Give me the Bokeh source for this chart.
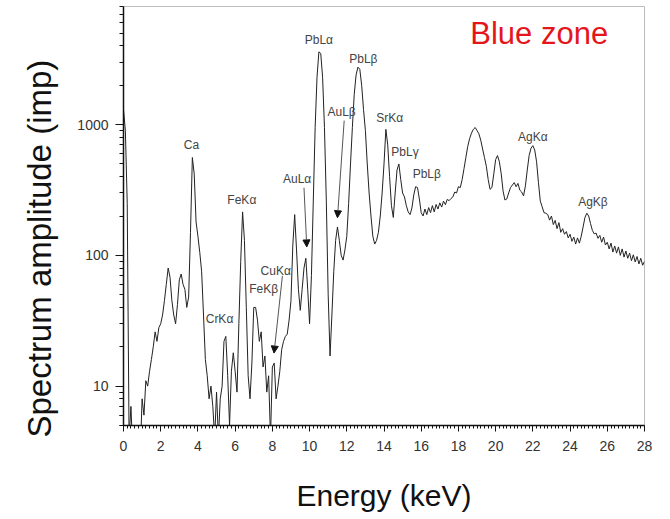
import numpy as np
from bokeh.plotting import figure
from bokeh.models import (Range1d, FixedTicker, PrintfTickFormatter, Label, Title,
                          Arrow, NormalHead, ColumnDataSource)
from bokeh.core.properties import value
from bokeh.embed import file_html
from bokeh.resources import INLINE

# ---------------- data ----------------
energy_step_kev = 0.1
counts = [
    1300, 900, 250, 4, 7, 3, 3, 3, 3, 3,            # 0.0 - 0.9
    8, 6, 11, 10, 13, 16, 20, 26, 22, 28,           # 1.0
    30, 35, 45, 60, 80, 68, 45, 35, 30, 42,         # 2.0
    65, 72, 60, 55, 40, 48, 150, 560, 420, 180,     # 3.0
    140, 105, 75, 35, 16, 12, 8, 10, 7, 4,          # 4.0
    9, 4, 8, 10, 22, 24, 12, 5, 13, 18,             # 5.0
    13, 9, 30, 90, 215, 130, 40, 12, 8, 15,         # 6.0
    40, 40, 32, 22, 26, 14, 17, 9, 12, 4,           # 7.0
    14, 15, 8, 10, 13, 19, 22, 24, 25, 32,          # 8.0
    45, 120, 205, 110, 55, 38, 55, 80, 95, 55,      # 9.0
    30, 70, 260, 950, 2300, 3600, 3500, 2300, 950, 260,   # 10.0
    50, 17, 35, 75, 130, 165, 130, 100, 92, 110,    # 11.0
    140, 250, 500, 950, 1700, 2400, 2750, 2650, 2000, 1300,  # 12.0
    900, 500, 300, 200, 140, 122, 130, 150, 200, 300,    # 13.0
    500, 920, 700, 400, 240, 195, 300, 450, 500, 380,    # 14.0
    300, 280, 240, 215, 205, 230, 290, 335, 330, 270,    # 15.0
    212, 200, 226, 205, 232, 212, 240, 215, 245, 226,    # 16.0
    252, 234, 260, 244, 268, 262, 272, 280, 305, 300,    # 17.0
    335, 330, 380, 460, 560, 680, 780, 860, 920, 950,    # 18.0
    900, 850, 760, 650, 560, 480, 380, 320, 330, 420,    # 19.0
    540, 580, 520, 420, 310, 265, 270, 300, 330, 345,    # 20.0
    360, 335, 355, 315, 305, 285, 340, 450, 580, 660,    # 21.0
    690, 640, 520, 360, 260, 235, 212, 210, 205, 186,    # 22.0
    200, 172, 185, 160, 178, 150, 160, 145, 152, 136,    # 23.0
    145, 128, 138, 122, 136, 124, 140, 165, 195, 210,    # 24.0
    200, 175, 155, 146, 148, 135, 142, 126, 138, 120,    # 25.0
    126, 112, 124, 106, 118, 104, 116, 100, 112, 97,     # 26.0
    108, 95, 104, 91, 101, 89, 98, 86, 95, 84,           # 27.0
    90,                                                  # 28.0
]
energy = np.round(np.arange(len(counts)) * energy_step_kev, 2)

peak_labels = ["Ca", "CrKα", "FeKα", "FeKβ", "CuKα", "AuLα", "PbLα", "AuLβ",
               "PbLβ", "SrKα", "PbLγ", "PbLβ", "AgKα", "AgKβ"]
label_energy = [3.65, 5.16, 6.36, 7.53, 8.18, 9.33, 10.50, 11.72,
                12.89, 14.31, 15.13, 16.30, 22.00, 25.23]
label_amp = [703, 32.5, 266, 55, 76, 386, 4400, 1242,
             3190, 1121, 614, 419, 799, 254]

# arrows: (start energy, start amp, end energy, end amp)
arrow_x0 = [9.70, 11.86, 8.54]
arrow_y0 = [329, 1073, 69.6]
arrow_x1 = [9.85, 11.50, 8.09]
arrow_y1 = [116, 194, 17.9]

x_ticks = list(range(0, 29, 2))
y_ticks = [10, 100, 1000]

FONT = "Liberation Sans"

# ---------------- figure ----------------
p = figure(width=670, height=519, output_backend="svg", toolbar_location=None,
           y_axis_type="log",
           x_range=Range1d(0, 28), y_range=Range1d(5, 8000),
           min_border_left=123, min_border_right=26,
           min_border_top=6, min_border_bottom=94)
p.background_fill_color = "white"
p.border_fill_color = "white"
p.outline_line_color = "#bdbdbd"
p.outline_line_width = 1
p.xgrid.visible = False
p.ygrid.visible = False

src = ColumnDataSource(dict(e=energy, c=counts))
p.line("e", "c", source=src, line_color="#222222", line_width=1)

# axes
p.xaxis.ticker = FixedTicker(ticks=x_ticks,
                             minor_ticks=[round(0.2 * i, 1) for i in range(141)])
p.yaxis.ticker = FixedTicker(
    ticks=y_ticks,
    minor_ticks=[m * d for d in (1, 10, 100, 1000) for m in range(2, 10)] + [5, 6, 7, 8, 9])
p.yaxis.formatter = PrintfTickFormatter(format="%d")

for ax in (p.xaxis[0], p.yaxis[0]):
    ax.axis_line_color = "#111111"
    ax.axis_line_width = 1.5
    ax.major_tick_line_color = "#111111"
    ax.minor_tick_line_color = "#111111"
    ax.major_tick_in = 0
    ax.minor_tick_in = 0
    ax.major_label_text_font = FONT
    ax.major_label_text_font_size = "14px"
    ax.major_label_text_color = "#333333"
    ax.axis_label_text_font = FONT
    ax.axis_label_text_font_style = "normal"
    ax.axis_label_text_color = "#111111"

p.xaxis.major_tick_out = 6
p.xaxis.minor_tick_out = 3
p.xaxis.major_label_standoff = 9
p.xaxis.axis_label = "Energy (keV)"
p.xaxis.axis_label_text_font_size = "30px"
p.xaxis.axis_label_standoff = 25

p.yaxis.major_tick_out = 8
p.yaxis.minor_tick_out = 4
p.yaxis.major_label_standoff = 7

# y axis title, placed on the left panel, starting just below the frame bottom
p.add_layout(Title(text="Spectrum amplitude (imp)", align="left", offset=-12,
                   standoff=34, text_font=FONT, text_font_size="33px",
                   text_font_style="normal", text_color="#111111"), "left")

# peak labels
lab_src = ColumnDataSource(dict(x=label_energy, y=label_amp, t=peak_labels))
p.text("x", "y", text="t", source=lab_src, text_align="center",
       text_baseline="middle", text_font=value(FONT), text_font_size="12px",
       text_color="#444444")

# arrows
for x0, y0, x1, y1 in zip(arrow_x0, arrow_y0, arrow_x1, arrow_y1):
    p.add_layout(Arrow(end=NormalHead(size=7, fill_color="#111111", line_color="#111111"),
                       x_start=x0, y_start=y0, x_end=x1, y_end=y1,
                       line_color="#555555", line_width=1))

# zone caption inside the plot
p.add_layout(Label(x=22.34, y=4980, text="Blue zone", text_align="center",
                   text_baseline="middle", text_font=FONT,
                   text_font_size="31px", text_color="#e4161c"))

open("out.html", "w").write(file_html(p, INLINE))
